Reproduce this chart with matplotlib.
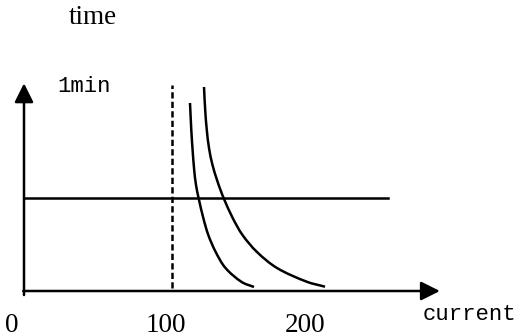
import numpy as np
import matplotlib
matplotlib.use("Agg")
import matplotlib.pyplot as plt
import matplotlib.transforms as mtrans
from matplotlib.path import Path
from matplotlib.patches import PathPatch

# Inverse-time characteristics: current (A) versus trip time (s)
curve_a_current = [112.16, 113.04, 113.92, 115.00, 116.22, 118.04, 121.15, 124.53,
                   129.53, 136.15, 147.09, 155.41]
curve_a_time = [121.29, 103.87, 90.97, 78.06, 68.39, 59.68, 47.10, 36.13,
                25.16, 14.84, 5.81, 2.58]
curve_b_current = [121.62, 122.43, 123.51, 125.00, 127.36, 130.41, 132.77, 135.00,
                   141.01, 147.64, 157.43, 170.95, 191.01, 203.38]
curve_b_time = [131.61, 116.77, 103.87, 92.26, 81.29, 71.61, 65.16, 59.68,
                47.10, 36.13, 25.16, 14.84, 6.00, 2.77]

rated_current = 100          # dashed reference line
rated_line_top = 133
threshold_time = 60          # 1 min horizontal line
threshold_end = 246
x_axis_end = 281
y_axis_end = 134

tick_values = [0, 100, 200]
tick_labels = ["0", "100", "200"]

W, H = 519, 336
PX_PER_A, PX_PER_S = 1.48, 1.55
fig = plt.figure(figsize=(W / 100, H / 100), dpi=100)
ax = fig.add_axes([0, 0, 1, 1])
ax.set_xlim(-24 / PX_PER_A, (W - 24) / PX_PER_A)
ax.set_ylim(-(H - 291) / PX_PER_S, 291 / PX_PER_S)
ax.axis("off")

LW = 1.8


def smooth_path(xs, ys):
    """Smooth cubic Bezier curve through the given points (chord-length tangents)."""
    scale = np.array([PX_PER_A, PX_PER_S])
    P = np.column_stack([xs, ys]).astype(float) * scale
    n = len(P)
    dirs = []
    for i in range(n):
        a = P[max(i - 1, 0)]
        b = P[min(i + 1, n - 1)]
        d = b - a
        dirs.append(d / np.hypot(*d))
    verts = [P[0]]
    codes = [Path.MOVETO]
    for i in range(n - 1):
        L = np.hypot(*(P[i + 1] - P[i]))
        verts += [P[i] + dirs[i] * L / 3, P[i + 1] - dirs[i + 1] * L / 3, P[i + 1]]
        codes += [Path.CURVE4] * 3
    return Path(np.array(verts) / scale, codes)


for xs, ys in [(curve_a_current, curve_a_time), (curve_b_current, curve_b_time)]:
    ax.add_patch(PathPatch(smooth_path(xs, ys), fill=False, lw=LW, ec="black",
                           capstyle="butt"))

# axes with arrow heads
arrow = dict(arrowstyle="-|>,head_length=1,head_width=0.5", mutation_scale=11.5,
             lw=LW, color="black", shrinkA=0, shrinkB=0)
ax.annotate("", xy=(x_axis_end, 0), xytext=(-0.5, 0), arrowprops=arrow)
ax.annotate("", xy=(0, y_axis_end), xytext=(0, -2.6), arrowprops=arrow)

# 1 min threshold and rated current
ax.plot([0, threshold_end], [threshold_time, threshold_time], color="black", lw=LW)
ax.plot([rated_current, rated_current], [2, rated_line_top], color="black", lw=LW,
        linestyle=(0, (2.5, 1.3)))

# tick labels under the current axis
label_shift = [-12, -6, -15]
for v, lab, dx in zip(tick_values, tick_labels, label_shift):
    tr = mtrans.blended_transform_factory(ax.transData, fig.transFigure) + \
        mtrans.ScaledTranslation(dx / 100, 0, fig.dpi_scale_trans)
    ax.text(v, 1 - 331.5 / H, lab, transform=tr, ha="center", va="baseline",
            family="Liberation Serif", size=19.5)


def fxy(px, py):
    return px / W, 1 - py / H


fig.text(*fxy(69, 24), "time", family="Liberation Serif", size=19.5,
         ha="left", va="baseline")
fig.text(*fxy(57, 91.5), "1min", family="Liberation Mono", size=16,
         ha="left", va="baseline")
fig.text(*fxy(423, 320), "current", family="Liberation Mono", size=16,
         ha="left", va="baseline")

fig.savefig("out.png", dpi=100, facecolor="white")
